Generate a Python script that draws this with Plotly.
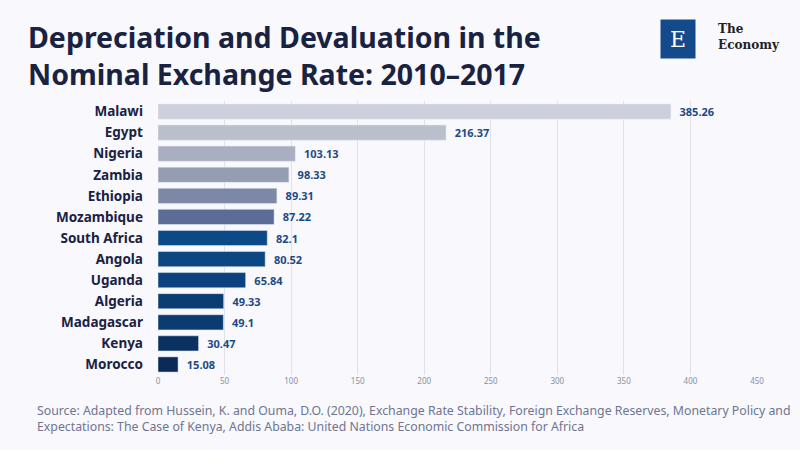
import plotly.graph_objects as go

countries = ["Malawi", "Egypt", "Nigeria", "Zambia", "Ethiopia", "Mozambique", "South Africa",
             "Angola", "Uganda", "Algeria", "Madagascar", "Kenya", "Morocco"]
values = [385.26, 216.37, 103.13, 98.33, 89.31, 87.22, 82.1, 80.52, 65.84, 49.33, 49.1, 30.47, 15.08]
colors = ["#cdd0da", "#babfcc", "#a9aec0", "#959db3", "#7c88a6", "#5b6d97", "#0c4a87",
          "#0c4784", "#0b427d", "#0b3d73", "#0b3b70", "#0a3161", "#0a2a57"]
ticks = [0, 50, 100, 150, 200, 250, 300, 350, 400, 450]

bg = "#f8f8fd"
fig = go.Figure(go.Bar(
    x=values, y=countries, orientation="h", marker_color=colors,
    text=["  " + str(v) for v in values], textposition="outside", cliponaxis=False,
    textfont=dict(family="Noto Sans", size=11, color="#1d4a85", weight="bold"),
    width=0.72,
))
fig.update_layout(
    width=800, height=450, paper_bgcolor=bg, plot_bgcolor=bg,
    margin=dict(l=158, r=43, t=101, b=75),
    showlegend=False,
    xaxis=dict(range=[0, 450], tickvals=ticks, showgrid=True, gridcolor="#e0e2ea",
               zeroline=False, tickfont=dict(family="Noto Sans", size=8, color="#8a8fa0")),
    yaxis=dict(categoryorder="array", categoryarray=countries[::-1], ticksuffix="    ",
               tickfont=dict(family="Noto Sans", size=13.5, color="#1a2242", weight="bold")),
)
fig.add_annotation(
    text="<b>Depreciation and Devaluation in the<br>Nominal Exchange Rate: 2010–2017</b>",
    xref="paper", yref="paper", x=-0.22, y=1.31, xanchor="left", yanchor="top", align="left",
    showarrow=False, font=dict(family="Noto Sans", size=28.5, color="#1a2242"))
fig.add_annotation(
    text="Source: Adapted from Hussein, K. and Ouma, D.O. (2020), Exchange Rate Stability, Foreign Exchange Reserves, Monetary Policy and<br>Expectations: The Case of Kenya, Addis Ababa: United Nations Economic Commission for Africa",
    xref="paper", yref="paper", x=-0.205, y=-0.09, xanchor="left", yanchor="top", align="left",
    showarrow=False, font=dict(family="Noto Sans", size=12.3, color="#6f7590"))
# logo
fig.add_annotation(text="E", xref="paper", yref="paper", x=0.898, y=1.30, showarrow=False,
                   width=32, height=36, bgcolor="#134a8a", valign="middle",
                   font=dict(family="DejaVu Serif", size=22, color="white"))
fig.add_annotation(text="<b>The<br>Economy</b>", xref="paper", yref="paper", x=0.932, y=1.295,
                   xanchor="left", align="left", showarrow=False,
                   font=dict(family="DejaVu Serif", size=12, color="#222"))
fig.write_html("out.html", config={"displayModeBar": False},
               post_script="document.documentElement.style.margin='0';document.body.style.margin='0';document.body.style.overflow='hidden';")
